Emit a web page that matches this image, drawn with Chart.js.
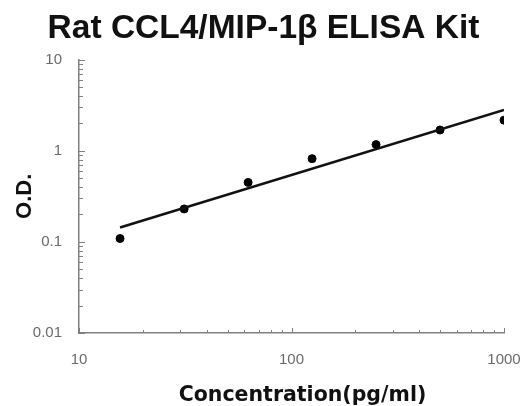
<!DOCTYPE html>
<html>
<head>
<meta charset="utf-8">
<script src="https://cdn.jsdelivr.net/npm/chart.js@4/dist/chart.umd.min.js"></script>
<style>
  html, body { margin: 0; padding: 0; background: #fff; }
  #wrap { width: 527px; height: 406px; }
</style>
</head>
<body>
<div id="wrap"><canvas id="odChart" width="527" height="406"></canvas></div>
<script>
// standard points
const concentration = [15.6, 31.25, 62.5, 125, 250, 500, 1000];
const odValues = [0.109, 0.23, 0.45, 0.82, 1.17, 1.69, 2.17];

// fitted curve end points
const fitX = [15.6, 1000];
const fitY = [0.144, 2.8];

const xTicks = [10, 20, 30, 40, 50, 60, 70, 80, 90, 100, 200, 300, 400, 500, 600, 700, 800, 900, 1000];
const yTicks = [0.01, 0.02, 0.03, 0.04, 0.05, 0.06, 0.07, 0.08, 0.09,
  0.1, 0.2, 0.3, 0.4, 0.5, 0.6, 0.7, 0.8, 0.9,
  1, 2, 3, 4, 5, 6, 7, 8, 9, 10];
const xLabels = { 10: '10', 100: '100', 1000: '1000' };
const yLabels = { 0.01: '0.01', 0.1: '0.1', 1: '1', 10: '10' };
const xTitle = 'Concentration(pg/ml)';

const axisColor = '#808080';
const labelColor = '#6a6a6a';

const isMajor = v => Math.abs(Math.log10(v) - Math.round(Math.log10(v))) < 1e-9;
const labelFor = (map, v) => {
  const k = Object.keys(map).find(key => Math.abs(+key - v) < 1e-9);
  return k ? map[k] : '';
};

// tick marks drawn inside the plot, like the original, plus the x title
// which sits a bit right of the plot centre in the original
const innerTicks = {
  id: 'innerTicks',
  afterDraw(chart) {
    const ctx = chart.ctx;
    const xs = chart.scales.x, ys = chart.scales.y;
    const area = chart.chartArea;
    ctx.save();
    ctx.strokeStyle = axisColor;
    ctx.lineWidth = 1;
    xTicks.forEach(v => {
      const px = Math.round(xs.getPixelForValue(v)) + 0.5;
      ctx.beginPath();
      ctx.moveTo(px, area.bottom);
      ctx.lineTo(px, area.bottom - (isMajor(v) ? 5 : 3));
      ctx.stroke();
    });
    yTicks.forEach(v => {
      const py = Math.round(ys.getPixelForValue(v)) + 0.5;
      ctx.beginPath();
      ctx.moveTo(area.left, py);
      ctx.lineTo(area.left + (isMajor(v) ? 6 : 4), py);
      ctx.stroke();
    });
    ctx.fillStyle = '#111';
    ctx.font = 'bold 20.5px "DejaVu Sans"';
    ctx.textAlign = 'center';
    ctx.textBaseline = 'alphabetic';
    ctx.fillText(xTitle, (area.left + area.right) / 2 + 11, xs.bottom - 5);
    ctx.restore();
  }
};

new Chart(document.getElementById('odChart'), {
  type: 'scatter',
  data: {
    datasets: [
      {
        label: 'Fit',
        type: 'line',
        data: fitX.map((x, i) => ({ x: x, y: fitY[i] })),
        borderColor: '#111',
        borderWidth: 2.5,
        pointRadius: 0,
        fill: false
      },
      {
        label: 'Standard',
        data: concentration.map((x, i) => ({ x: x, y: odValues[i] })),
        backgroundColor: '#000',
        borderColor: '#000',
        pointRadius: 4
      }
    ]
  },
  options: {
    responsive: false,
    animation: false,
    layout: { padding: { left: 0, right: 0, top: 0, bottom: 0 } },
    plugins: {
      legend: { display: false },
      tooltip: { enabled: false },
      title: {
        display: true,
        text: 'Rat CCL4/MIP-1β ELISA Kit',
        color: '#111',
        font: { family: 'Liberation Sans', size: 33.5, weight: 'bold' },
        padding: { top: 9, bottom: 10.5 }
      }
    },
    scales: {
      x: {
        type: 'logarithmic',
        min: 10,
        max: 1000,
        afterBuildTicks: s => { s.ticks = xTicks.map(v => ({ value: v })); },
        afterFit: s => { s.height = 73; s.paddingLeft = 0; s.paddingRight = 23; },
        ticks: {
          autoSkip: false,
          maxRotation: 0,
          padding: 18,
          color: labelColor,
          font: { family: 'Liberation Sans', size: 15 },
          callback: v => labelFor(xLabels, v)
        },
        grid: { display: false, drawTicks: false },
        border: { display: true, color: axisColor, width: 1.5 },
        title: { display: false }
      },
      y: {
        type: 'logarithmic',
        min: 0.01,
        max: 10,
        afterBuildTicks: s => { s.ticks = yTicks.map(v => ({ value: v })); },
        afterFit: s => { s.width = 79; },
        ticks: {
          autoSkip: false,
          padding: 17,
          color: labelColor,
          font: { family: 'Liberation Sans', size: 15 },
          callback: v => labelFor(yLabels, v)
        },
        grid: { display: false, drawTicks: false },
        border: { display: true, color: axisColor, width: 1.5 },
        title: {
          display: true,
          text: 'O.D.',
          color: '#111',
          font: { family: 'Liberation Sans', size: 22, weight: 'bold' },
          padding: { top: 12, bottom: 0 }
        }
      }
    }
  },
  plugins: [innerTicks]
});
</script>
</body>
</html>
